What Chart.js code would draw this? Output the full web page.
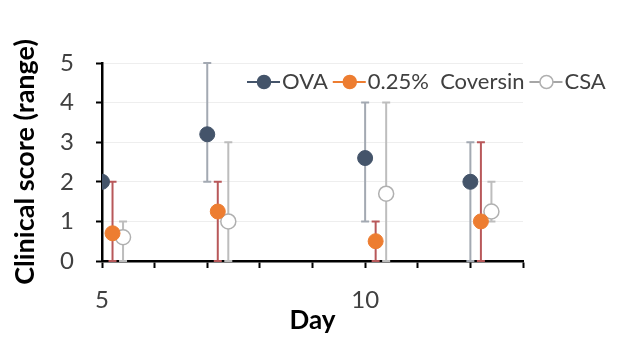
<!DOCTYPE html>
<html>
<head>
<meta charset="utf-8">
<script src="https://cdn.jsdelivr.net/npm/chart.js@4.4.1/dist/chart.umd.min.js"></script>
<style>
  html, body { margin: 0; padding: 0; background: #fff; }
  #wrap { width: 623px; height: 338px; position: relative; }
</style>
</head>
<body>
<div id="wrap"><canvas id="grafico"></canvas></div>
<script>
// datos
const ovaX = [5, 7, 10, 12];
const ovaY = [2.0, 3.2, 2.6, 2.0];
const ovaLo = [2, 2, 1, 0];
const ovaHi = [2, 5, 4, 3];

const covX = [5.2, 7.2, 10.2, 12.2];
const covY = [0.7, 1.25, 0.5, 1.0];
const covLo = [0, 0, 0, 0];
const covHi = [2, 2, 1, 3];

const csaX = [5.4, 7.4, 10.4, 12.4];
const csaY = [0.6, 1.0, 1.7, 1.25];
const csaLo = [0, 0, 0, 1];
const csaHi = [1, 3, 4, 2];

const etiquetas = ['OVA', '0.25%  Coversin', 'CSA'];
const xLabels = [5, 10];

const fuente = 'Lato, "Open Sans", sans-serif';
const gris = '#404040';

function puntos(xs, ys) {
  return xs.map((x, i) => ({ x: x, y: ys[i] }));
}

// barras de rango
const barrasError = {
  id: 'barrasError',
  beforeDatasetsDraw(chart) {
    const ctx = chart.ctx;
    const xs = chart.scales.x, ys = chart.scales.y;
    chart.data.datasets.forEach(ds => {
      ctx.save();
      ctx.strokeStyle = ds.errColor;
      ctx.lineWidth = 2;
      ds.data.forEach((p, i) => {
        const px = xs.getPixelForValue(p.x);
        const y1 = ys.getPixelForValue(ds.errLo[i]);
        const y2 = ys.getPixelForValue(ds.errHi[i]);
        if (y1 === y2) return;
        ctx.beginPath();
        ctx.moveTo(px, y1); ctx.lineTo(px, y2);
        ctx.moveTo(px - 4, y1); ctx.lineTo(px + 4, y1);
        ctx.moveTo(px - 4, y2); ctx.lineTo(px + 4, y2);
        ctx.stroke();
      });
      ctx.restore();
    });
  }
};

// leyenda con linea y marcador
const leyenda = {
  id: 'leyenda',
  afterDraw(chart) {
    const ctx = chart.ctx;
    let x = 247;
    const y = 82;
    ctx.save();
    ctx.font = '22px ' + fuente;
    ctx.textBaseline = 'middle';
    chart.data.datasets.forEach(ds => {
      ctx.strokeStyle = ds.legendLine;
      ctx.lineWidth = 2;
      ctx.beginPath();
      ctx.moveTo(x, y); ctx.lineTo(x + 33, y);
      ctx.stroke();
      ctx.beginPath();
      ctx.arc(x + 17, y, 6.5, 0, Math.PI * 2);
      ctx.fillStyle = ds.backgroundColor;
      ctx.fill();
      ctx.lineWidth = 1.5;
      ctx.strokeStyle = ds.borderColor;
      ctx.stroke();
      x += 35;
      ctx.fillStyle = gris;
      ctx.fillText(ds.label, x, y);
      x += ctx.measureText(ds.label).width + 5;
    });
    ctx.restore();
  }
};

new Chart(document.getElementById('grafico'), {
  type: 'scatter',
  data: {
    datasets: [
      {
        label: etiquetas[0], data: puntos(ovaX, ovaY),
        errLo: ovaLo, errHi: ovaHi, errColor: '#a3a9b2', legendLine: '#44546a',
        backgroundColor: '#44546a', borderColor: '#44546a',
        pointRadius: 7.5, borderWidth: 1
      },
      {
        label: etiquetas[1], data: puntos(covX, covY),
        errLo: covLo, errHi: covHi, errColor: '#b8585a', legendLine: '#ed7d31',
        backgroundColor: '#ed7d31', borderColor: '#ed7d31',
        pointRadius: 7.5, borderWidth: 1
      },
      {
        label: etiquetas[2], data: puntos(csaX, csaY),
        errLo: csaLo, errHi: csaHi, errColor: '#bdbdbd', legendLine: '#a6a6a6',
        backgroundColor: '#ffffff', borderColor: '#b0b0b0',
        pointRadius: 7.5, borderWidth: 1.5
      }
    ]
  },
  options: {
    responsive: true,
    maintainAspectRatio: false,
    animation: false,
    layout: { padding: { top: 63, right: 100, left: 9, bottom: 2 } },
    plugins: { legend: { display: false }, tooltip: { enabled: false } },
    scales: {
      x: {
        type: 'linear', min: 5, max: 13,
        afterFit(s) { s.height = 338 - 261 - 2; },
        border: { color: '#000', width: 2.5 },
        grid: { drawOnChartArea: false, tickColor: '#000', tickLength: 7, tickWidth: 2 },
        ticks: {
          stepSize: 1, padding: 18, color: gris, font: { family: fuente, size: 24 },
          callback: v => xLabels.includes(v) ? String(v) : ''
        },
        title: { display: true, text: 'Day', color: '#000', font: { family: fuente, size: 26, weight: 'bold' }, padding: 0 }
      },
      y: {
        min: 0, max: 5,
        afterFit(s) { s.width = 102 - 9; },
        border: { color: '#000', width: 2.5 },
        grid: {
          color: c => (c.tick && Number.isInteger(c.tick.value) && c.tick.value > 0) ? '#eeeeee' : 'rgba(0,0,0,0)',
          tickColor: '#000', tickLength: 6, tickWidth: 2
        },
        ticks: {
          stepSize: 0.5, padding: 22, color: gris, font: { family: fuente, size: 24 },
          callback: v => Number.isInteger(v) ? String(v) : ''
        },
        title: { display: true, text: 'Clinical score (range)', color: '#000', font: { family: fuente, size: 27, weight: 'bold' }, padding: 0 }
      }
    }
  },
  plugins: [barrasError, leyenda]
});
</script>
</body>
</html>
